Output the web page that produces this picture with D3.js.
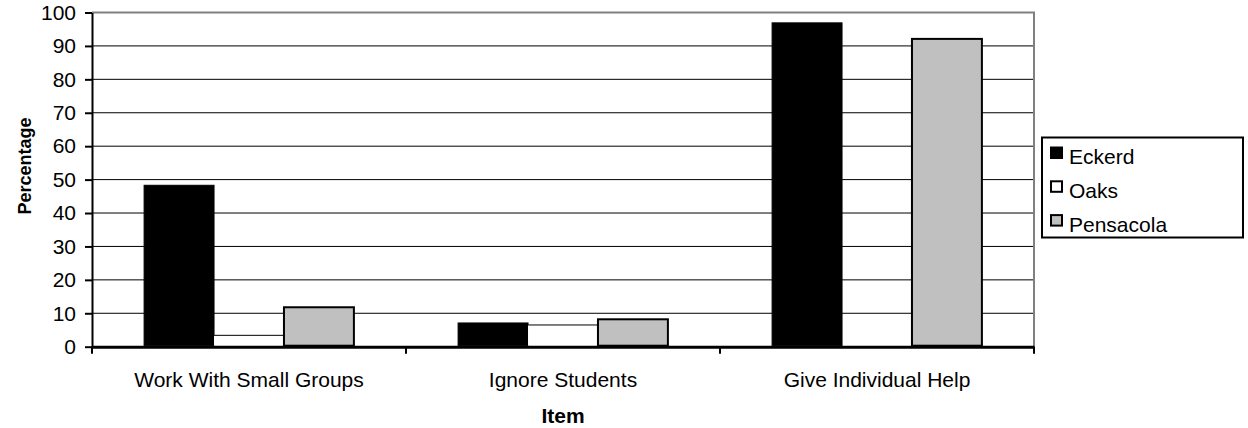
<!DOCTYPE html>
<html>
<head>
<meta charset="utf-8">
<script src="https://cdn.jsdelivr.net/npm/d3@7"></script>
<style>
  body { margin: 0; background: #fff; }
  text { font-family: "Liberation Sans", Arial, sans-serif; }
</style>
</head>
<body>
<div id="chart_div"></div>
<script>
// data
const items = ["Work With Small Groups", "Ignore Students", "Give Individual Help"]
const schools = ["Eckerd", "Oaks", "Pensacola"]
const eckerd = [48.3, 7.1, 96.9]
const oaks = [3.4, 6.5, 0]
const pensacola = [11.8, 8.2, 92.1]
const yTicks = [0, 10, 20, 30, 40, 50, 60, 70, 80, 90, 100]

const fills = { Eckerd: "#000000", Oaks: "#ffffff", Pensacola: "#c0c0c0" }
const fontFam = "'Liberation Sans', Arial, sans-serif"

const W = 1248, H = 428
const margin = { top: 12.5, right: 214, bottom: 81.3, left: 92 },
  width = W - margin.left - margin.right,
  height = H - margin.top - margin.bottom

const svg = d3.select("#chart_div")
  .append("svg")
  .attr("width", W)
  .attr("height", H)
  .append("g")
  .attr("transform", `translate(${margin.left},${margin.top})`)

const x = d3.scaleBand().domain(items).range([0, width]).paddingInner(0).paddingOuter(0)
const xSub = d3.scaleBand().domain(schools).range([0, x.bandwidth()]).paddingOuter(0.745).paddingInner(0)
const y = d3.scaleLinear().domain([0, 100]).range([height, 0])

// gridlines
svg.append("g")
  .selectAll("line")
  .data(yTicks.filter(d => d > 0 && d < 100))
  .join("line")
  .attr("x1", 0).attr("x2", width)
  .attr("y1", d => y(d)).attr("y2", d => y(d))
  .attr("stroke", "#000").attr("stroke-width", 1)

// plot border top and right (grey)
svg.append("path")
  .attr("d", `M0,${y(100)}H${width}V${height}`)
  .attr("fill", "none").attr("stroke", "#808080").attr("stroke-width", 2)

// bars
const rows = []
items.forEach((it, i) => {
  rows.push({ item: it, school: "Eckerd", v: eckerd[i] })
  rows.push({ item: it, school: "Oaks", v: oaks[i] })
  rows.push({ item: it, school: "Pensacola", v: pensacola[i] })
})

const bars = svg.append("g")
bars.selectAll("rect")
  .data(rows.filter(d => d.v > 0))
  .join("rect")
  .attr("x", d => x(d.item) + xSub(d.school))
  .attr("y", d => y(d.v))
  .attr("width", xSub.bandwidth())
  .attr("height", d => y(0) - y(d.v) - 1)
  .attr("fill", d => fills[d.school])
  .attr("stroke", d => d.school === "Oaks" ? "none" : "#000")
  .attr("stroke-width", d => d.school === "Pensacola" ? 2 : 1)

// Oaks top edge only
bars.selectAll("line.oaks")
  .data(rows.filter(d => d.school === "Oaks" && d.v > 0))
  .join("line")
  .attr("class", "oaks")
  .attr("x1", d => x(d.item) + xSub(d.school))
  .attr("x2", d => x(d.item) + xSub(d.school) + xSub.bandwidth())
  .attr("y1", d => y(d.v)).attr("y2", d => y(d.v))
  .attr("stroke", "#000").attr("stroke-width", 1)

// y axis
const yAxis = svg.append("g")
  .call(d3.axisLeft(y).tickValues(yTicks).tickSize(7).tickSizeOuter(0))
yAxis.select(".domain").attr("stroke", "#000").attr("stroke-width", 2)
yAxis.selectAll(".tick line").attr("stroke", "#000").attr("stroke-width", 2)
yAxis.selectAll(".tick text")
  .attr("font-size", 21).attr("fill", "#000").attr("x", -16)
  .style("font-family", fontFam)

// x axis
const xAxis = svg.append("g")
  .attr("transform", `translate(0,${height})`)
  .call(d3.axisBottom(x).tickSize(0).tickSizeOuter(0))
xAxis.select(".domain").attr("stroke", "#000").attr("stroke-width", 3)
xAxis.selectAll(".tick text")
  .attr("font-size", 21).attr("fill", "#000").attr("dy", 0).attr("y", 40.5)
  .style("font-family", fontFam)
svg.append("g")
  .selectAll("line")
  .data(d3.range(items.length + 1))
  .join("line")
  .attr("x1", i => i * x.step()).attr("x2", i => i * x.step())
  .attr("y1", height).attr("y2", height + 7)
  .attr("stroke", "#000").attr("stroke-width", 2)

// axis titles
svg.append("text")
  .attr("transform", `translate(${31 - margin.left},${166 - margin.top}) rotate(-90)`)
  .attr("text-anchor", "middle")
  .attr("font-size", 18).attr("font-weight", "bold")
  .text("Percentage")

svg.append("text")
  .attr("x", width / 2).attr("y", height + 76)
  .attr("text-anchor", "middle")
  .attr("font-size", 21).attr("font-weight", "bold")
  .text("Item")

// legend
const lg = svg.append("g").attr("transform", `translate(${1042 - margin.left},${137.5 - margin.top})`)
lg.append("rect")
  .attr("width", 201).attr("height", 100)
  .attr("fill", "#fff").attr("stroke", "#000").attr("stroke-width", 2)
schools.forEach((s, i) => {
  const base = 26.5 + i * 33.8
  lg.append("rect")
    .attr("x", 9).attr("y", base - 16.5).attr("width", 11).attr("height", 10.5)
    .attr("fill", fills[s]).attr("stroke", "#000").attr("stroke-width", 2)
  lg.append("text")
    .attr("x", 27).attr("y", base)
    .attr("font-size", 21).attr("fill", "#000")
    .text(s)
})
</script>
</body>
</html>
